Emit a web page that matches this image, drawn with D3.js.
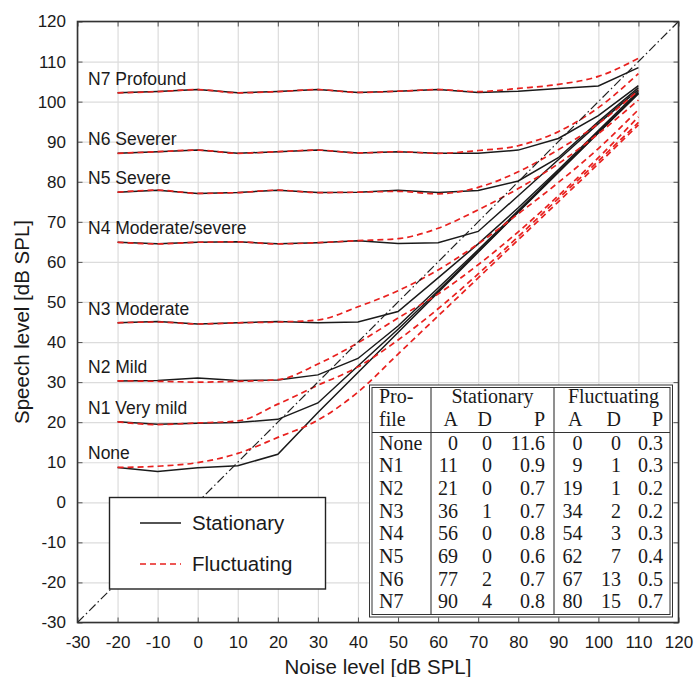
<!DOCTYPE html>
<html>
<head>
<meta charset="utf-8">
<script src="https://cdn.jsdelivr.net/npm/d3@7"></script>
<style>
body { margin: 0; background: #fff; }
text { font-family: "Liberation Sans", Arial, sans-serif; fill: #1a1a1a; }
.tbl text { font-family: "Liberation Serif", "Times New Roman", serif; font-size: 20px; }
</style>
</head>
<body>
<div id="chart"></div>
<script>
// noise levels (x) shared by every curve
var noise = [-20, -10, 0, 10, 20, 30, 40, 50, 60, 70, 80, 90, 100, 110];

// profile names, bottom to top
var profileLabels = ['None', 'N1 Very mild', 'N2 Mild', 'N3 Moderate', 'N4 Moderate/severe', 'N5 Severe', 'N6 Severer', 'N7 Profound'];

// stationary noise (black solid)
var statNone = [8.7, 7.7, 8.6, 9.1, 12.0, 22.4, 32.4, 42.4, 52.4, 62.4, 72.4, 82.3, 92.2, 102.0];
var statN1 = [20.1, 19.5, 19.7, 19.9, 20.7, 24.8, 34.0, 43.2, 52.8, 62.6, 72.5, 82.4, 92.3, 102.1];
var statN2 = [30.3, 30.4, 31.0, 30.4, 30.5, 31.8, 35.9, 44.0, 53.5, 63.0, 72.8, 82.6, 92.4, 102.3];
var statN3 = [44.8, 45.1, 44.5, 44.8, 45.1, 44.8, 45.0, 47.6, 56.0, 64.5, 73.5, 83.0, 92.8, 102.6];
var statN4 = [64.9, 64.5, 64.9, 65.0, 64.5, 64.8, 65.3, 64.6, 64.8, 67.6, 76.5, 85.5, 94.5, 103.0];
var statN5 = [77.4, 77.9, 77.1, 77.3, 77.9, 77.3, 77.4, 77.9, 77.3, 77.8, 80.2, 86.0, 95.0, 103.5];
var statN6 = [87.1, 87.5, 87.9, 87.1, 87.5, 87.9, 87.2, 87.5, 87.1, 87.1, 87.9, 90.8, 96.5, 104.0];
var statN7 = [102.2, 102.5, 103.0, 102.2, 102.5, 103.0, 102.3, 102.6, 103.0, 102.3, 102.6, 103.3, 103.9, 108.5];

// fluctuating noise (red dashed)
var flucNone = [8.7, 9.0, 9.9, 12.2, 16.2, 20.5, 27.5, 37.0, 46.5, 56.0, 65.5, 75.0, 84.5, 94.2];
var flucN1 = [20.1, 19.4, 19.8, 20.3, 24.5, 29.2, 33.8, 40.5, 48.3, 57.0, 66.3, 75.8, 85.2, 94.8];
var flucN2 = [30.3, 30.2, 30.0, 30.2, 30.6, 34.5, 39.8, 46.0, 52.0, 59.3, 67.5, 76.5, 86.0, 96.2];
var flucN3 = [44.8, 45.0, 44.5, 44.8, 45.0, 45.5, 48.8, 52.8, 58.0, 64.5, 72.0, 79.8, 88.3, 98.0];
var flucN4 = [64.9, 64.5, 64.9, 65.0, 64.5, 64.8, 65.3, 65.8, 68.4, 73.0, 78.3, 84.5, 92.0, 100.4];
var flucN5 = [77.4, 77.9, 77.1, 77.3, 77.9, 77.3, 77.4, 77.6, 77.0, 78.6, 82.5, 88.0, 94.5, 102.8];
var flucN6 = [87.1, 87.5, 87.9, 87.1, 87.5, 87.9, 87.2, 87.5, 87.1, 87.8, 89.0, 92.5, 98.5, 107.0];
var flucN7 = [102.2, 102.5, 103.0, 102.2, 102.5, 103.0, 102.3, 102.6, 103.0, 102.5, 103.3, 104.3, 106.3, 110.8];

var stationary = [statNone, statN1, statN2, statN3, statN4, statN5, statN6, statN7];
var fluctuating = [flucNone, flucN1, flucN2, flucN3, flucN4, flucN5, flucN6, flucN7];

// table values
var tabProfile = ['None', 'N1', 'N2', 'N3', 'N4', 'N5', 'N6', 'N7'];
var tabStatA = [0, 11, 21, 36, 56, 69, 77, 90];
var tabStatD = [0, 0, 0, 1, 0, 0, 2, 4];
var tabStatP = [11.6, 0.9, 0.7, 0.7, 0.8, 0.6, 0.7, 0.8];
var tabFlucA = [0, 9, 19, 34, 54, 62, 67, 80];
var tabFlucD = [0, 1, 1, 2, 3, 7, 13, 15];
var tabFlucP = [0.3, 0.3, 0.2, 0.2, 0.3, 0.4, 0.5, 0.7];

var ticks = d3.range(-30, 121, 10);

// build canvas
var width = 694,
	height = 677;

var svg = d3.select('#chart')
			.append('svg')
			.attr('width', width)
			.attr('height', height);

var x = d3.scaleLinear().domain([-30, 120]).range([77.5, 678.5]);
var y = d3.scaleLinear().domain([-30, 120]).range([622.5, 21.5]);

// grid
svg.append('g')
	.attr('transform', 'translate(0,' + y(-30) + ')')
	.call(d3.axisBottom(x).tickValues(ticks).tickSize(-(y(-30) - y(120))).tickFormat(''))
	.call(g => g.select('.domain').remove())
	.selectAll('line').attr('stroke', '#dcdcdc').attr('stroke-width', 1.2);
svg.append('g')
	.attr('transform', 'translate(' + x(-30) + ',0)')
	.call(d3.axisLeft(y).tickValues(ticks).tickSize(-(x(120) - x(-30))).tickFormat(''))
	.call(g => g.select('.domain').remove())
	.selectAll('line').attr('stroke', '#dcdcdc').attr('stroke-width', 1.2);

// axes with inward ticks, plain hyphen for negatives
var fmt = d => String(d);
var xAxis = svg.append('g')
	.attr('transform', 'translate(0,' + y(-30) + ')')
	.call(d3.axisBottom(x).tickValues(ticks).tickSize(-5).tickPadding(13.5).tickFormat(fmt));
var yAxis = svg.append('g')
	.attr('transform', 'translate(' + x(-30) + ',0)')
	.call(d3.axisLeft(y).tickValues(ticks).tickSize(-5).tickPadding(11.5).tickFormat(fmt));
var topAxis = svg.append('g')
	.attr('transform', 'translate(0,' + y(120) + ')')
	.call(d3.axisTop(x).tickValues(ticks).tickSize(-5).tickFormat(''));
var rightAxis = svg.append('g')
	.attr('transform', 'translate(' + x(120) + ',0)')
	.call(d3.axisRight(y).tickValues(ticks).tickSize(-5).tickFormat(''));
[xAxis, yAxis, topAxis, rightAxis].forEach(function(a) {
	a.select('.domain').remove();
	a.selectAll('.tick line').attr('stroke', '#555');
	a.selectAll('text')
		.style('font-family', '"Liberation Sans", Arial, sans-serif')
		.style('font-size', '17px')
		.attr('fill', '#1a1a1a');
});

// curves
var line = d3.line()
	.x((d, i) => x(noise[i]))
	.y(d => y(d));
var smooth = d3.line()
	.x((d, i) => x(noise[i]))
	.y(d => y(d))
	.curve(d3.curveMonotoneX);

svg.append('g').selectAll('path')
	.data(stationary).enter()
	.append('path')
	.attr('d', line)
	.attr('fill', 'none')
	.attr('stroke', '#1a1a1a')
	.attr('stroke-width', 1.5);

svg.append('g').selectAll('path')
	.data(fluctuating).enter()
	.append('path')
	.attr('d', smooth)
	.attr('fill', 'none')
	.attr('stroke', '#e8201e')
	.attr('stroke-width', 1.7)
	.attr('stroke-dasharray', '6,4');

// diagonal speech = noise
svg.append('line')
	.attr('x1', x(-30)).attr('y1', y(-30))
	.attr('x2', x(120)).attr('y2', y(120))
	.attr('stroke', '#222')
	.attr('stroke-width', 1.2)
	.attr('stroke-dasharray', '9,3,1.5,3');

// profile labels
svg.append('g').selectAll('text')
	.data(profileLabels).enter()
	.append('text')
	.attr('x', 88)
	.attr('y', (d, i) => y(stationary[i][0]) - 8)
	.style('font-size', '17.5px')
	.text(d => d);

// legend
var legend = svg.append('g');
legend.append('rect')
	.attr('x', 109.5).attr('y', 497.5)
	.attr('width', 216).attr('height', 91.5)
	.attr('fill', '#fff')
	.attr('stroke', '#222')
	.attr('stroke-width', 1.4);
legend.append('line')
	.attr('x1', 140).attr('x2', 181).attr('y1', 523).attr('y2', 523)
	.attr('stroke', '#1a1a1a').attr('stroke-width', 1.5);
legend.append('line')
	.attr('x1', 140).attr('x2', 181).attr('y1', 564).attr('y2', 564)
	.attr('stroke', '#e8201e').attr('stroke-width', 1.7).attr('stroke-dasharray', '6,4');
legend.append('text').attr('x', 192).attr('y', 529.5).style('font-size', '20.5px').text('Stationary');
legend.append('text').attr('x', 192).attr('y', 571).style('font-size', '20.5px').text('Fluctuating');

// table
var tbl = svg.append('g').attr('class', 'tbl');
var tx0 = 369.5, ty0 = 385, tx1 = 672.5, ty1 = 617;
tbl.append('rect')
	.attr('x', tx0).attr('y', ty0)
	.attr('width', tx1 - tx0).attr('height', ty1 - ty0)
	.attr('fill', '#fff')
	.attr('stroke', '#333')
	.attr('stroke-width', 1);
tbl.append('rect')
	.attr('x', tx0 + 2.5).attr('y', ty0 + 2.5)
	.attr('width', tx1 - tx0 - 5).attr('height', ty1 - ty0 - 5)
	.attr('fill', 'none')
	.attr('stroke', '#333')
	.attr('stroke-width', 1);
[431, 554].forEach(function(vx) {
	tbl.append('line')
		.attr('x1', vx).attr('x2', vx).attr('y1', ty0 + 2.5).attr('y2', ty1 - 2.5)
		.attr('stroke', '#333').attr('stroke-width', 1.1);
});
tbl.append('line')
	.attr('x1', tx0 + 2.5).attr('x2', tx1 - 2.5).attr('y1', 432.5).attr('y2', 432.5)
	.attr('stroke', '#333').attr('stroke-width', 1.1);

var colRight = [458, 492, 545, 582.5, 621, 663];
var rowY = d => 449.5 + d * 22.7;

tbl.append('text').attr('x', 379).attr('y', 403).text('Pro-');
tbl.append('text').attr('x', 379).attr('y', 425.5).text('file');
tbl.append('text').attr('x', 492.5).attr('y', 403).attr('text-anchor', 'middle').text('Stationary');
tbl.append('text').attr('x', 613.5).attr('y', 403).attr('text-anchor', 'middle').text('Fluctuating');
tbl.append('g').selectAll('text')
	.data(['A', 'D', 'P', 'A', 'D', 'P']).enter()
	.append('text')
	.attr('x', (d, i) => colRight[i])
	.attr('y', 425.5)
	.attr('text-anchor', 'end')
	.text(d => d);

tbl.append('g').selectAll('text')
	.data(tabProfile).enter()
	.append('text')
	.attr('x', 379)
	.attr('y', (d, i) => rowY(i))
	.text(d => d);

var columns = [tabStatA, tabStatD, tabStatP.map(v => v.toFixed(1)), tabFlucA, tabFlucD, tabFlucP.map(v => v.toFixed(1))];
columns.forEach(function(col, c) {
	tbl.append('g').selectAll('text')
		.data(col).enter()
		.append('text')
		.attr('x', colRight[c])
		.attr('y', (d, i) => rowY(i))
		.attr('text-anchor', 'end')
		.text(d => d);
});

// frame
svg.append('rect')
	.attr('x', x(-30)).attr('y', y(120))
	.attr('width', x(120) - x(-30)).attr('height', y(-30) - y(120))
	.attr('fill', 'none')
	.attr('stroke', '#333')
	.attr('stroke-width', 1.6);

// axis titles
svg.append('text')
	.attr('x', (x(-30) + x(120)) / 2)
	.attr('y', 674)
	.attr('text-anchor', 'middle')
	.style('font-size', '20.5px')
	.text('Noise level [dB SPL]');
svg.append('text')
	.attr('transform', 'translate(29,' + (y(-30) + y(120)) / 2 + ') rotate(-90)')
	.attr('text-anchor', 'middle')
	.style('font-size', '20.5px')
	.text('Speech level [dB SPL]');
</script>
</body>
</html>
